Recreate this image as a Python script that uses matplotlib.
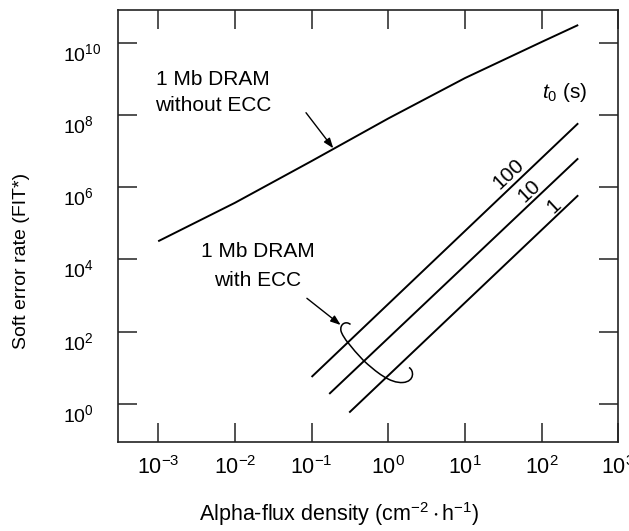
import matplotlib
matplotlib.use("Agg")
import matplotlib.pyplot as plt
from matplotlib.path import Path
from matplotlib.patches import PathPatch
from matplotlib.transforms import Affine2D

# Data
flux_no_ecc = [1e-3, 1e-2, 1e-1, 1, 10, 100, 300]
ser_no_ecc = [3.2e4, 3.7e5, 5.3e6, 8e7, 1.05e9, 1.05e10, 3.1e10]

t0_labels = ["100", "10", "1"]
ecc_flux_start = [0.1, 0.17, 0.31]
ecc_flux_end = [300, 300, 300]
ecc_ser_start = [5.6, 1.9, 0.58]
ecc_ser_end = [5.9e7, 6.3e6, 6.0e5]

plt.rcParams["font.family"] = ["Liberation Sans", "DejaVu Sans"]
plt.rcParams["mathtext.fontset"] = "custom"
plt.rcParams["mathtext.rm"] = "Liberation Sans"
plt.rcParams["mathtext.it"] = "Liberation Sans:italic"
plt.rcParams["mathtext.default"] = "regular"

W, H = 629, 531
fig = plt.figure(figsize=(W / 100, H / 100), dpi=100)
ax = fig.add_axes([118.3 / W, 1 - 442.3 / H, 500.0 / W, 432.8 / H])

# figure pixels with y measured from the top
pix = Affine2D().scale(1 / W, -1 / H).translate(0, 1) + fig.transFigure

ax.plot(flux_no_ecc, ser_no_ecc, color="black", lw=1.4, solid_capstyle="butt")
for xs, xe, ys, ye in zip(ecc_flux_start, ecc_flux_end, ecc_ser_start, ecc_ser_end):
    ax.plot([xs, xe], [ys, ye], color="black", lw=1.4, solid_capstyle="butt")

ax.set_xscale("log")
ax.set_yscale("log")
ax.set_xlim(10 ** -3.52, 1e3)
ax.set_ylim(10 ** -1.06, 10 ** 10.92)
ax.set_xticks([10.0 ** k for k in range(-3, 4)])
ax.set_yticks([10.0 ** k for k in range(0, 11, 2)])
ax.minorticks_off()

ax.tick_params(which="both", direction="in", top=True, right=True,
               length=13.5, width=1.1, color="#222222")
ax.tick_params(axis="x", labelsize=15.5, pad=10)
ax.tick_params(axis="y", labelsize=14, pad=39.5)
plt.setp(ax.get_yticklabels(), ha="left", va="top")
for s in ax.spines.values():
    s.set_linewidth(1.2)
    s.set_color("#222222")

ax.set_xlabel(r"Alpha-flux density (cm$^{-2}\cdot$h$^{-1}$)", fontsize=15.5, va="baseline")
ax.xaxis.set_label_coords((339.5 - 118.3) / 500.0, (442.3 - 521.5) / 432.8)
ax.set_ylabel("Soft error rate (FIT*)", fontsize=14, va="center")
ax.yaxis.set_label_coords((21.7 - 118.3) / 500.0, (442.3 - 260.8) / 432.8)

# text annotations
txt = dict(transform=pix, fontsize=15, ha="center", va="baseline")
fig.text(213.3, 85, "1 Mb DRAM", **txt)
fig.text(213.3, 110.7, "without ECC", **txt)
fig.text(258, 256.6, "1 Mb DRAM", **txt)
fig.text(258, 286, "with ECC", **txt)
fig.text(564.7, 98.3, r"$\mathit{t}_0$ (s)", **txt)

label_pos = [(10 ** 1.565, 10 ** 6.36), (10 ** 1.839, 10 ** 5.90), (10 ** 2.161, 10 ** 5.47)]
for lab, (lx, ly) in zip(t0_labels, label_pos):
    ax.text(lx, ly, lab, rotation=43, fontsize=15, ha="center", va="center",
            rotation_mode="anchor")

arrow = dict(arrowstyle="-|>,head_length=0.6,head_width=0.22", color="black",
             lw=1.0, shrinkA=0, shrinkB=0, mutation_scale=10)
ax.annotate("", xy=(333.3, H - 148.3), xytext=(306, H - 112.7),
            xycoords="figure pixels", textcoords="figure pixels", arrowprops=arrow)
ax.annotate("", xy=(340.7, H - 325), xytext=(306.9, H - 298.3),
            xycoords="figure pixels", textcoords="figure pixels", arrowprops=arrow)

# curly bracket grouping the ECC lines
verts = [(350.5, 324.5),
         (346, 320.5), (339.5, 324), (341, 331),
         (343, 338), (352, 348), (363, 360),
         (376, 372), (390, 383.5), (403, 382.5),
         (415, 381.5), (414, 370), (409, 367.5)]
codes = [Path.MOVETO] + [Path.CURVE4] * 12
fig.patches.append(PathPatch(Path(verts, codes), transform=pix, fill=False,
                             lw=1.1, edgecolor="black"))

fig.savefig("out.png", dpi=100)
